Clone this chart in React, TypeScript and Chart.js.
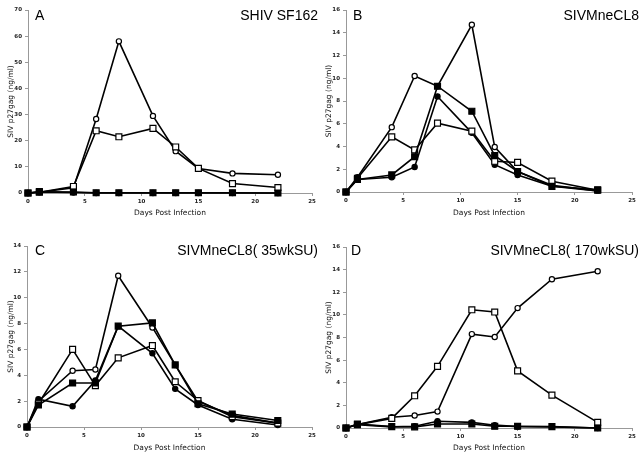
import React, { useEffect, useRef } from "react";
import { Chart, registerables } from "chart.js";

Chart.register(...registerables);

const days = [0, 1, 4, 6, 8, 11, 13, 15, 18, 22];
const xTicks = [0, 5, 10, 15, 20, 25];

const openCircleA = [0, 0.3, 2.0, 28.3, 58.0, 29.5, 16.0, 9.4, 7.5, 7.0];
const openSquareA = [0, 0.3, 2.5, 23.8, 21.5, 24.7, 17.6, 9.4, 3.6, 2.1];
const filledSquareA = [0, 0.5, 0.4, 0.1, 0.1, 0.1, 0.1, 0.1, 0.1, 0];
const filledCircleA = [0, 0.4, 0.2, 0, 0, 0, 0, 0, 0, 0];

const openCircleB = [0, 1.3, 5.7, 10.2, 9.3, 14.7, 3.95, 1.8, 0.6, 0.1];
const openSquareB = [0, 1.2, 4.85, 3.7, 6.05, 5.35, 2.7, 2.6, 0.95, 0.15];
const filledSquareB = [0, 1.1, 1.5, 3.1, 9.3, 7.1, 3.2, 1.8, 0.5, 0.2];
const filledCircleB = [0, 1.1, 1.3, 2.2, 8.4, 5.2, 2.4, 1.5, 0.5, 0.1];

const openCircleC = [0, 2.0, 4.35, 4.45, 11.7, 7.7, 4.8, 2.0, 0.9, 0.3];
const openSquareC = [0, 1.8, 6.0, 3.2, 5.35, 6.3, 3.5, 2.05, 0.8, 0.3];
const filledSquareC = [0, 1.7, 3.4, 3.4, 7.8, 8.05, 4.8, 1.8, 1.0, 0.5];
const filledCircleC = [0, 2.15, 1.6, 3.6, 7.8, 5.7, 2.95, 1.7, 0.6, 0.15];

const openCircleD = [0, 0.3, 0.95, 1.1, 1.45, 8.3, 8.05, 10.6, 13.15, 13.85];
const openSquareD = [0, 0.3, 0.85, 2.85, 5.45, 10.45, 10.25, 5.05, 2.9, 0.5];
const filledSquareD = [0, 0.35, 0.12, 0.1, 0.35, 0.35, 0.15, 0.15, 0.12, 0];
const filledCircleD = [0, 0.3, 0.1, 0.15, 0.6, 0.5, 0.25, 0.12, 0.1, 0];

const panelLetters = ["A", "B", "C", "D"];
const panelNames = ["SHIV SF162", "SIVMneCL8", "SIVMneCL8( 35wkSU)", "SIVMneCL8( 170wkSU)"];
const yMaxes = [70, 16, 14, 16];
const ySteps = [10, 2, 2, 2];
const xTitle = "Days Post Infection";
const yTitle = "SIV p27gag (ng/ml)";

const seriesByPanel = [
  [openCircleA, openSquareA, filledSquareA, filledCircleA],
  [openCircleB, openSquareB, filledSquareB, filledCircleB],
  [openCircleC, openSquareC, filledSquareC, filledCircleC],
  [openCircleD, openSquareD, filledSquareD, filledCircleD],
];

// layout per panel: canvas pos, plot area (left, right, top, bottom) in canvas coords
const layouts = [
  { x: 0, y: 0, left: 28, right: 312, top: 10, bottom: 193, xPad: 10.5, yPad: 6.5, lx: 35, by: 20 },
  { x: 321, y: 0, left: 25, right: 311, top: 10, bottom: 192, xPad: 10.5, yPad: 3.5, lx: 32, by: 20 },
  { x: 0, y: 228, left: 27, right: 312, top: 18, bottom: 199, xPad: 3.5, yPad: 6.5, lx: 35, by: 27 },
  { x: 321, y: 228, left: 25, right: 311, top: 19, bottom: 200, xPad: 3.5, yPad: 3.5, lx: 30, by: 27 },
];

const W = 321;
const H = 228;

const markerStyles = [
  { pointStyle: "circle", pointRadius: 2.6, fill: "#ffffff", order: 3 },
  { pointStyle: "rect", pointRadius: 4.2, fill: "#ffffff", order: 1 },
  { pointStyle: "rect", pointRadius: 4.2, fill: "#000000", order: 0 },
  { pointStyle: "circle", pointRadius: 2.6, fill: "#000000", order: 2 },
];

function Panel({ idx }: { idx: number }) {
  const ref = useRef<HTMLCanvasElement | null>(null);
  useEffect(() => {
    const L = layouts[idx];
    const titlePlugin = {
      id: "panelTitle",
      afterDraw(chart: any) {
        const ctx = chart.ctx;
        ctx.save();
        ctx.fillStyle = "#000";
        ctx.font = "14px 'Liberation Sans', Arial, sans-serif";
        ctx.textBaseline = "alphabetic";
        ctx.textAlign = "left";
        ctx.fillText(panelLetters[idx], L.lx, L.by);
        ctx.textAlign = "right";
        ctx.fillText(panelNames[idx], W - 3, L.by);
        ctx.restore();
      },
    };
    const datasets = seriesByPanel[idx].map((vals, i) => ({
      label: "s" + i,
      data: days.map((d, k) => ({ x: d, y: vals[k] })),
      borderColor: "#000",
      borderWidth: 1.6,
      pointStyle: markerStyles[i].pointStyle,
      pointRadius: markerStyles[i].pointRadius,
      pointBackgroundColor: markerStyles[i].fill,
      pointBorderColor: "#000",
      pointBorderWidth: 1.2,
      order: markerStyles[i].order,
      tension: 0,
      fill: false,
      clip: false,
    }));
    const tickFont = { family: "'DejaVu Sans', Verdana, sans-serif", size: 5.5, weight: "bold" as const };
    const titleFont = { family: "'DejaVu Sans', Verdana, sans-serif", size: 7.5 };
    const chart = new Chart(ref.current!, {
      type: "line",
      data: { datasets },
      options: {
        animation: false,
        responsive: false,
        layout: { padding: { top: L.top, right: W - L.right, left: 0, bottom: 0 } },
        plugins: { legend: { display: false }, tooltip: { enabled: false }, title: { display: false } },
        scales: {
          x: {
            type: "linear",
            min: 0,
            max: 25,
            afterBuildTicks: (s: any) => {
              s.ticks = xTicks.map((v) => ({ value: v }));
            },
            afterFit: (s: any) => {
              s.height = H - L.bottom;
            },
            grid: { display: true, drawOnChartArea: false, drawTicks: true, tickLength: 3, color: "#999" },
            border: { display: true, color: "#999", width: 1 },
            ticks: { font: tickFont, color: "#222", padding: 2, maxRotation: 0 },
            title: { display: true, text: xTitle, font: titleFont, color: "#111", padding: { top: 0, bottom: L.xPad } },
          },
          y: {
            type: "linear",
            min: 0,
            max: yMaxes[idx],
            ticks: { stepSize: ySteps[idx], font: tickFont, color: "#222", padding: 3 },
            afterFit: (s: any) => {
              s.width = L.left;
            },
            grid: { display: true, drawOnChartArea: false, drawTicks: true, tickLength: 3, color: "#999" },
            border: { display: true, color: "#999", width: 1 },
            title: { display: true, text: yTitle, font: titleFont, color: "#111", padding: { top: L.yPad, bottom: 0 } },
          },
        },
      },
      plugins: [titlePlugin],
    } as any);
    return () => chart.destroy();
  }, [idx]);
  const L = layouts[idx];
  return (
    <canvas
      ref={ref}
      width={W}
      height={H}
      style={{ position: "absolute", left: L.x, top: L.y, width: W, height: H }}
    />
  );
}

export default function App() {
  return (
    <div style={{ position: "fixed", left: 0, top: 0, width: 642, height: 456, background: "#fff" }}>
      {[0, 1, 2, 3].map((i) => (
        <Panel key={i} idx={i} />
      ))}
    </div>
  );
}
